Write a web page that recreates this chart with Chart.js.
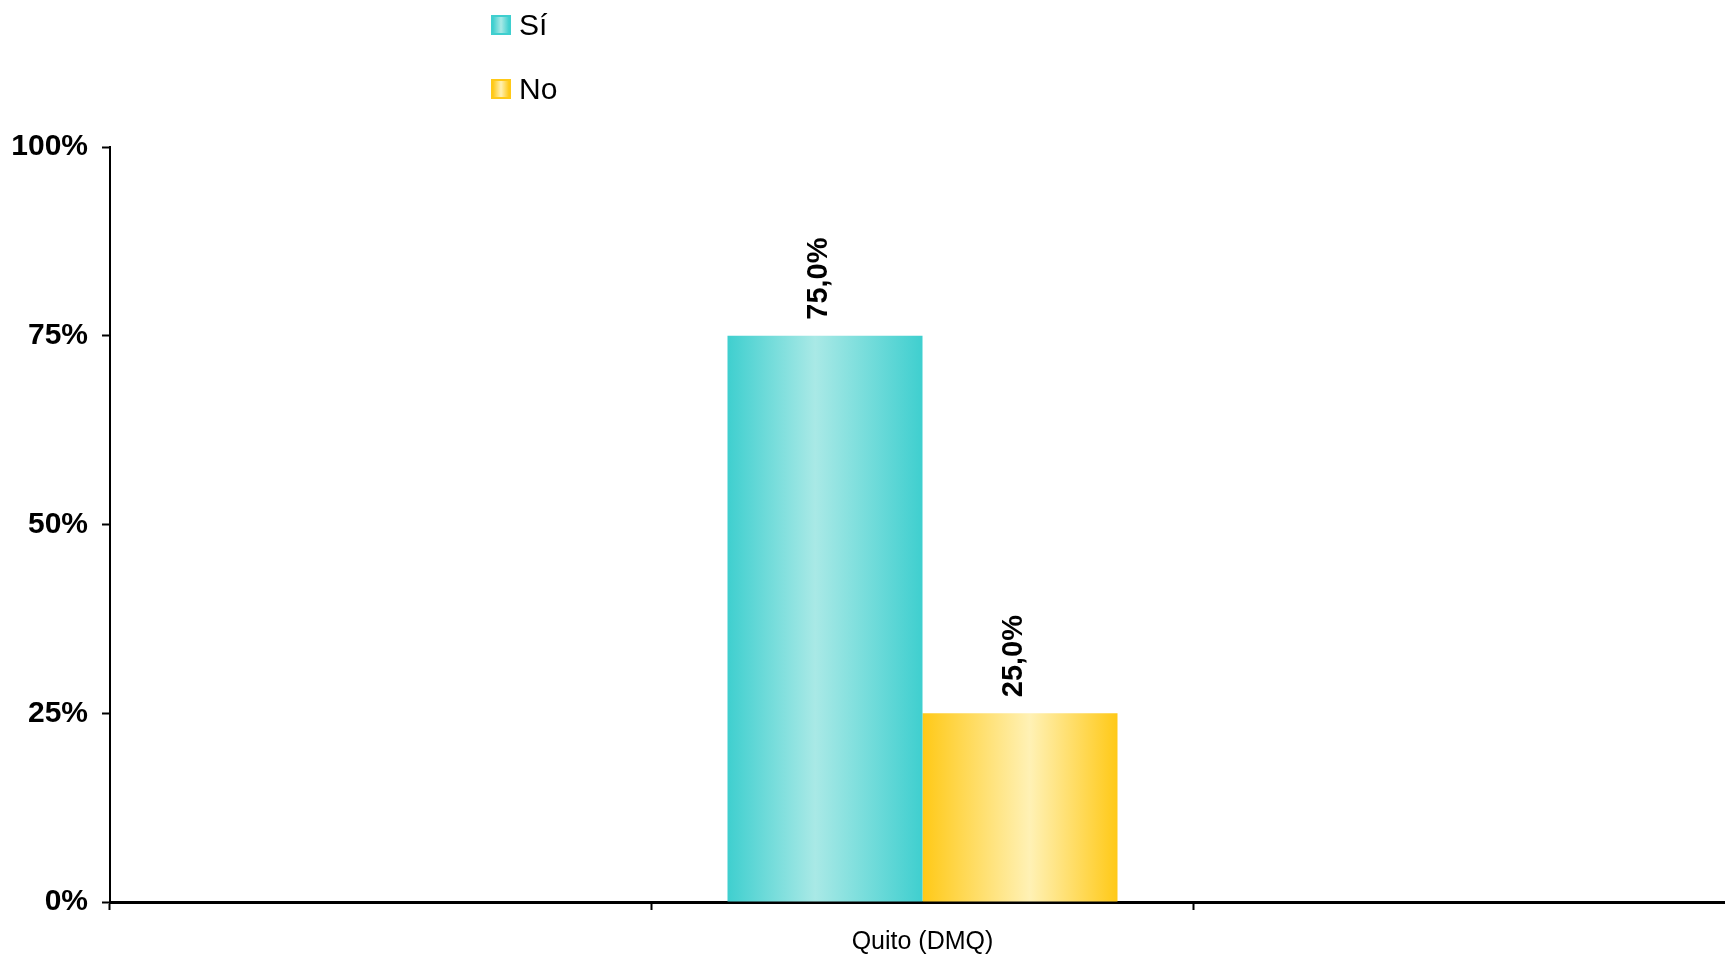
<!DOCTYPE html>
<html>
<head>
<meta charset="utf-8">
<script src="https://cdn.jsdelivr.net/npm/chart.js@4.4.1/dist/chart.umd.min.js"></script>
<style>
    html, body { margin: 0; padding: 0; background: #fff; overflow: hidden; }
    #wrap { position: relative; width: 1725px; height: 956px; overflow: hidden; }
    #legend { position: absolute; left: 491px; top: 4px; font-family: "Liberation Sans", Arial, sans-serif; font-size: 30px; color: #000; }
    #legend .item { display: flex; align-items: center; height: 42px; margin-bottom: 22px; }
    #legend .box { width: 16px; height: 16px; border: 2px solid; margin-right: 8px; }
</style>
</head>
<body>
<div id="wrap">
    <canvas id="chart" width="1735" height="956"></canvas>
    <div id="legend"></div>
</div>
<script>
// Chart data
const categories = ['', 'Quito (DMQ)', ''];
const seriesNames = ['Sí', 'No'];
const siValues = [null, 75.0, null];
const noValues = [null, 25.0, null];
const yTicks = [0, 25, 50, 75, 100];

// Colours (edge, light centre)
const barStyles = [
    { edge: '#3fcfcf', light: '#a9e9e6', mid: 0.45 },
    { edge: '#ffc917', light: '#fff1b5', mid: 0.55 }
];

const fontFamily = '"Liberation Sans", Arial, Helvetica, sans-serif';

// Paint each bar with a horizontal gradient like the original
const gradientBars = {
    id: 'gradientBars',
    beforeDatasetsDraw(chart) {
        const ctx = chart.ctx;
        chart.data.datasets.forEach((ds, i) => {
            const meta = chart.getDatasetMeta(i);
            const st = barStyles[i];
            meta.data.forEach((el, j) => {
                if (ds.data[j] == null) return;
                const left = el.x - el.width / 2;
                const g = ctx.createLinearGradient(left, 0, left + el.width, 0);
                g.addColorStop(0, st.edge);
                g.addColorStop(st.mid, st.light);
                g.addColorStop(1, st.edge);
                el.options.backgroundColor = g;
            });
        });
    }
};

// Rotated value labels above the bars
const valueLabels = {
    id: 'valueLabels',
    afterDatasetsDraw(chart) {
        const ctx = chart.ctx;
        ctx.save();
        ctx.font = 'bold 29px ' + fontFamily;
        ctx.fillStyle = '#000';
        ctx.textAlign = 'left';
        ctx.textBaseline = 'middle';
        chart.data.datasets.forEach((ds, i) => {
            const meta = chart.getDatasetMeta(i);
            meta.data.forEach((el, j) => {
                const v = ds.data[j];
                if (v == null) return;
                ctx.save();
                ctx.translate(el.x - 6, el.y - 16);
                ctx.rotate(-Math.PI / 2);
                ctx.fillText(v.toFixed(1).replace('.', ',') + '%', 0, 0);
                ctx.restore();
            });
        });
        ctx.restore();
    }
};

const ctx = document.getElementById('chart').getContext('2d');
const chart = new Chart(ctx, {
    type: 'bar',
    data: {
        labels: categories,
        datasets: [{
            label: seriesNames[0],
            data: siValues,
            backgroundColor: c => barStyles[0].edge
        }, {
            label: seriesNames[1],
            data: noValues,
            backgroundColor: c => barStyles[1].edge
        }]
    },
    options: {
        responsive: false,
        animation: false,
        layout: { padding: { top: 147, right: 0, left: 0, bottom: 0 } },
        categoryPercentage: 0.72,
        barPercentage: 1.0,
        plugins: {
            legend: { display: false },
            tooltip: { enabled: false }
        },
        scales: {
            x: {
                afterFit: s => { s.height = 54; },
                grid: {
                    display: true,
                    offset: true,
                    drawOnChartArea: false,
                    tickLength: 8,
                    tickWidth: 2,
                    color: '#000'
                },
                border: { display: true, color: '#000', width: 3 },
                ticks: {
                    color: '#000',
                    padding: 17,
                    font: { family: fontFamily, size: 25 }
                }
            },
            y: {
                min: 0,
                max: 100,
                afterFit: s => { s.width = 110; },
                afterBuildTicks: s => { s.ticks = yTicks.map(v => ({ value: v })); },
                grid: {
                    display: true,
                    drawOnChartArea: false,
                    tickLength: 8,
                    tickWidth: 2,
                    color: '#000'
                },
                border: { display: true, color: '#000', width: 2 },
                ticks: {
                    color: '#000',
                    padding: 14,
                    font: { family: fontFamily, size: 30, weight: 'bold' },
                    callback: v => v + '%'
                }
            }
        }
    },
    plugins: [gradientBars, valueLabels]
});

// HTML legend built from the datasets (stacked vertically)
const legendEl = document.getElementById('legend');
chart.data.datasets.forEach((ds, i) => {
    const st = barStyles[i];
    const item = document.createElement('div');
    item.className = 'item';
    const box = document.createElement('span');
    box.className = 'box';
    box.style.borderColor = st.edge;
    box.style.background = `linear-gradient(to right, ${st.edge}, ${st.light} 50%, ${st.edge})`;
    const txt = document.createElement('span');
    txt.textContent = ds.label;
    item.appendChild(box);
    item.appendChild(txt);
    legendEl.appendChild(item);
});
</script>
</body>
</html>
